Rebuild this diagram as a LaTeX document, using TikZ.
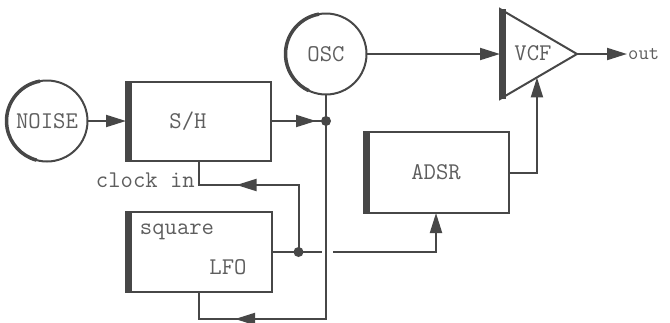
\documentclass[tikz,border=0pt]{standalone}
\usepackage{fontspec}
\usepackage{tikz}
\usetikzlibrary{arrows.meta,positioning,calc,shapes.geometric,decorations.markings}
\definecolor{ink}{HTML}{474747}
\definecolor{type}{HTML}{5E5E5E}

\begin{document}
\begin{tikzpicture}[x=1pt,y=-1pt,
  >={Triangle[length=20pt,width=12pt]},
  wire/.style={draw=ink,line width=2pt},
  block/.style={draw=ink,line width=2pt,minimum width=145pt,minimum height=79pt,inner sep=0pt,outer sep=0pt},
  unit/.style={circle,draw=ink,line width=2pt,minimum size=81pt,inner sep=0pt,outer sep=0pt},
  lbl/.style={text=type,font=\ttfamily\fontsize{24}{27}\selectfont},
  heavy/.style={ink,line width=6pt},
  rim/.style={ink,line width=3.5pt},
  arrowpos/.style={postaction={decorate},decoration={markings,mark=at position #1 with {\arrow{>}}}}]
  \useasboundingbox (0,0) rectangle (670,322);

  % blocks
  \node[unit,lbl] (noise) at (47,121) {NOISE};
  \node[block] (sh) at (198.5,121) {};
  \node[lbl] (shtxt) at (188,121) {S/H};
  \node[unit,lbl] (osc) at (326,54) {OSC};
  \node[isosceles triangle,isosceles triangle stretches,shape border rotate=0,
        draw=ink,line width=2pt,minimum width=90pt,minimum height=77pt,
        inner sep=0pt,outer sep=0pt,anchor=west] (vcf) at (500,54) {};
  \node[lbl] (vcftxt) at (533,53) {VCF};
  \node[block,lbl,minimum height=81pt] (adsr) at (436,172.5) {ADSR};
  \node[block,minimum width=146pt,minimum height=80pt] (lfo) at (199,252) {};
  \node[lbl] (sqtxt) at (177,232) {square};
  \node[lbl] (lfotxt) at (228,267) {LFO};
  \node[lbl,anchor=east,inner sep=0pt] (ckin) at (195,180) {clock in};
  \node[lbl,anchor=west,inner sep=1pt,font=\ttfamily\fontsize{20}{22}\selectfont] (out) at (627,54) {out};

  % heavy edges
  \draw[heavy] ([xshift=3pt]sh.north west) -- ([xshift=3pt]sh.south west);
  \draw[heavy] ([xshift=3pt]adsr.north west) -- ([xshift=3pt]adsr.south west);
  \draw[heavy] ([xshift=3pt]lfo.north west) -- ([xshift=3pt]lfo.south west);
  \draw[heavy] ([xshift=3pt]vcf.left corner) -- ([xshift=3pt]vcf.right corner);
  \draw[rim] (noise.100) arc[start angle=100,end angle=255,radius=40.5pt];
  \draw[rim] (osc.100) arc[start angle=100,end angle=245,radius=40.5pt];

  % junctions
  \coordinate (j1) at (osc.south |- sh.east);
  \coordinate (j2) at ([xshift=26.5pt]lfo.east);
  \coordinate (ck) at ([yshift=-24.5pt]sh.south);
  \coordinate (bot) at ([yshift=-27pt]lfo.south);
  \coordinate (cv) at ($(vcf.right corner)!0.48!(vcf.apex)$);

  % wires
  \draw[wire,->] (noise) -- (sh.west);
  \draw[wire,arrowpos=-10pt] (sh.east) -- (j1);
  \draw[wire,arrowpos=-63pt] (osc) -- (j1) |- (bot) -- (lfo.south);
  \draw[wire,arrowpos=129pt] (j2) |- (ck) -- (sh.south);
  \draw[wire] (lfo.east) -- ([xshift=-4pt]j2 -| j1);
  \draw[wire,->] ([xshift=7pt]j2 -| j1) -| (adsr.south);
  \draw[wire,->] (osc) -- (vcf.west);
  \draw[wire,->] (vcf.apex) -- (out.west);
  \draw[wire,->] (adsr.east) -| (cv);
  \fill[ink] (j1) circle (5pt);
  \fill[ink] (j2) circle (5pt);
\end{tikzpicture}
\end{document}
